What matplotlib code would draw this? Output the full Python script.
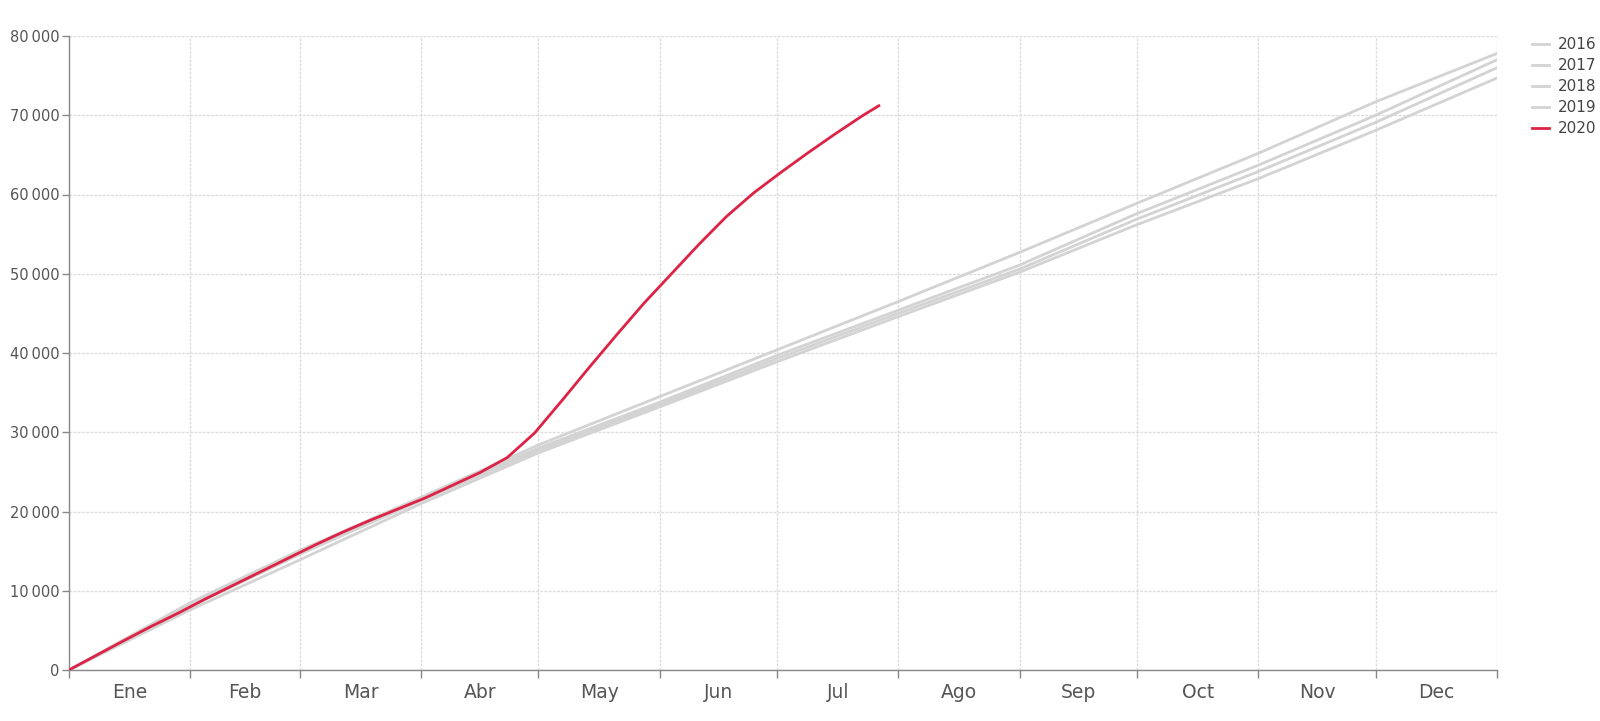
import matplotlib
matplotlib.use("Agg")
import matplotlib.pyplot as plt
from matplotlib.ticker import FixedLocator, FuncFormatter, NullFormatter

# ---- data (values in thousands) ----
month_labels = ["Ene", "Feb", "Mar", "Abr", "May", "Jun", "Jul", "Ago", "Sep", "Oct", "Nov", "Dec"]
month_starts = [0, 31, 59, 90, 120, 151, 181, 212, 243, 273, 304, 334, 365]

grey_days = [0, 31, 59, 90, 120, 151, 181, 212, 243, 273, 304, 334, 365]
y2016 = [0, 8.3, 14.9, 21.6, 28.0, 33.8, 39.7, 45.4, 51.1, 57.6, 63.7, 70.0, 77.0]
y2017 = [0, 8.5, 15.1, 21.8, 28.4, 34.5, 40.4, 46.5, 52.7, 58.9, 65.2, 71.7, 77.8]
y2018 = [0, 7.6, 13.9, 21.0, 27.4, 33.2, 38.9, 44.6, 50.2, 56.2, 62.0, 68.1, 74.7]
y2019 = [0, 8.0, 14.6, 21.4, 27.7, 33.5, 39.3, 45.0, 50.6, 56.9, 62.9, 69.1, 76.0]

red_days = [0, 7, 14, 21, 28, 35, 42, 49, 56, 63, 70, 77, 84, 91, 98, 105, 112, 119,
            126, 133, 140, 147, 154, 161, 168, 175, 182, 189, 196, 203, 207]
y2020 = [0, 1.85, 3.7, 5.5, 7.2, 9.0, 10.7, 12.4, 14.1, 15.8, 17.4, 18.9, 20.3, 21.7,
         23.3, 24.9, 26.8, 29.9, 34.0, 38.2, 42.3, 46.3, 50.0, 53.7, 57.2, 60.2, 62.8,
         65.3, 67.7, 70.0, 71.2]

y_ticks = [0, 10000, 20000, 30000, 40000, 50000, 60000, 70000, 80000]

# ---- figure ----
W, H = 1600, 721
fig = plt.figure(figsize=(W / 100, H / 100), dpi=100)
ax = fig.add_axes([69 / W, 1 - 670 / H, (1497 - 69) / W, (670 - 36) / H])

grey = "#d3d3d3"
red = "#dc2346"
for lab, ys in [("2016", y2016), ("2017", y2017), ("2018", y2018), ("2019", y2019)]:
    ax.plot(grey_days, [v * 1000 for v in ys], color=grey, lw=2.0, label=lab,
            solid_joinstyle="round", zorder=3)
ax.plot(red_days, [v * 1000 for v in y2020], color=red, lw=2.0, label="2020",
        solid_joinstyle="round", zorder=4)

ax.set_xlim(0, 365)
ax.set_ylim(0, 80000)

ax.xaxis.set_major_locator(FixedLocator(month_starts))
ax.xaxis.set_major_formatter(NullFormatter())
mids = [(month_starts[i] + month_starts[i + 1]) / 2 for i in range(12)]
ax.set_xticks(mids, month_labels, minor=True)
ax.tick_params(axis="x", which="minor", length=0, pad=9, labelsize=13.5, labelcolor="#555555")
ax.tick_params(axis="x", which="major", length=6, width=1, color="#888888")

ax.yaxis.set_major_locator(FixedLocator(y_ticks))
ax.yaxis.set_major_formatter(FuncFormatter(lambda v, p: f"{int(v):,}".replace(",", "\u2009")))
ax.tick_params(axis="y", length=5, width=1, color="#888888", pad=2, labelsize=10.5,
               labelcolor="#555555")

ax.grid(True, which="major", color="#dcdcdc", lw=1.0, linestyle=(0, (2, 1)), zorder=0)
ax.set_axisbelow(True)

for s in ["top", "right"]:
    ax.spines[s].set_visible(False)
for s in ["left", "bottom"]:
    ax.spines[s].set_color("#888888")
    ax.spines[s].set_linewidth(1.0)

leg = fig.legend(loc="upper left", bbox_to_anchor=(1532 / W, 1 - 37 / H), frameon=False,
                 fontsize=11, handlelength=1.1, handletextpad=0.6, labelspacing=0.4,
                 borderaxespad=0, borderpad=0)
for t in leg.get_texts():
    t.set_color("#444444")

fig.savefig("out.png", dpi=100)
